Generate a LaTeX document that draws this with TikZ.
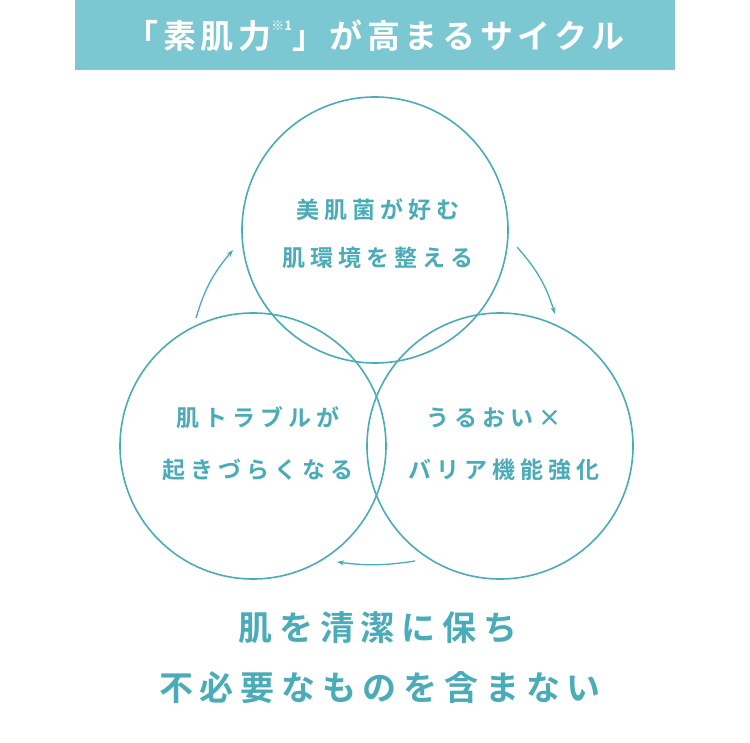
\documentclass[tikz,border=0pt]{standalone}
\usepackage{fontspec}
\newfontfamily\jp{Noto Sans CJK JP Bold}
\newfontfamily\jpt[LetterSpace=14]{Noto Sans CJK JP Bold}
\newfontfamily\jpl[LetterSpace=22]{Noto Sans CJK JP Bold}
\newfontfamily\jpb[LetterSpace=20]{Noto Sans CJK JP Bold}
\usetikzlibrary{arrows.meta}
\definecolor{band}{HTML}{7CC8D2}
\definecolor{teal}{HTML}{4AACB8}
\begin{document}
\begin{tikzpicture}[x=1pt,y=-1pt,
  ring/.style={draw=teal,line width=1.6pt},
  lbl/.style={text=teal,font=\jpl\fontsize{23}{23}\selectfont,align=center},
  big/.style={text=teal,font=\jpb\fontsize{34}{34}\selectfont},
  cyc/.style={draw=teal,line width=1.3pt,-{Stealth[length=7pt,width=5pt]}}]
\useasboundingbox[fill=white] (0,0) rectangle (750,743);
\fill[band] (75,0) rectangle (675,70);
\node[text=white,font=\jpt\fontsize{33}{33}\selectfont] (title) at (375,36) {「素肌力\raisebox{0.55em}{\jp\fontsize{13}{13}\selectfont ※1}」が高まるサイクル};
\node[ring,circle,minimum size=266pt,inner sep=0pt] (top) at (375,230) {};
\node[ring,circle,minimum size=266pt,inner sep=0pt] (left) at (253,446) {};
\node[ring,circle,minimum size=266pt,inner sep=0pt] (right) at (500,446) {};
\node[lbl] (t1) at (378,210) {美肌菌が好む};
\node[lbl] (t2) at (378,258) {肌環境を整える};
\node[lbl] (l1) at (258,418) {肌トラブルが};
\node[lbl] (l2) at (258,470) {起きづらくなる};
\node[lbl] (r1) at (494,418) {うるおい×};
\node[lbl] (r2) at (504,470) {バリア機能強化};
\coordinate (a1) at (517,247); \coordinate (b1) at (555,314);
\coordinate (a2) at (415,561); \coordinate (b2) at (337,562);
\coordinate (a3) at (196,318); \coordinate (b3) at (233,250);
\draw[cyc] (a1) to[bend left=12] (b1);
\draw[cyc] (a2) to[bend left=8] (b2);
\draw[cyc] (a3) to[bend left=12] (b3);
\node[big] (m1) at (378,628) {肌を清潔に保ち};
\node[big] (m2) at (380,688) {不必要なものを含まない};
\end{tikzpicture}
\end{document}
